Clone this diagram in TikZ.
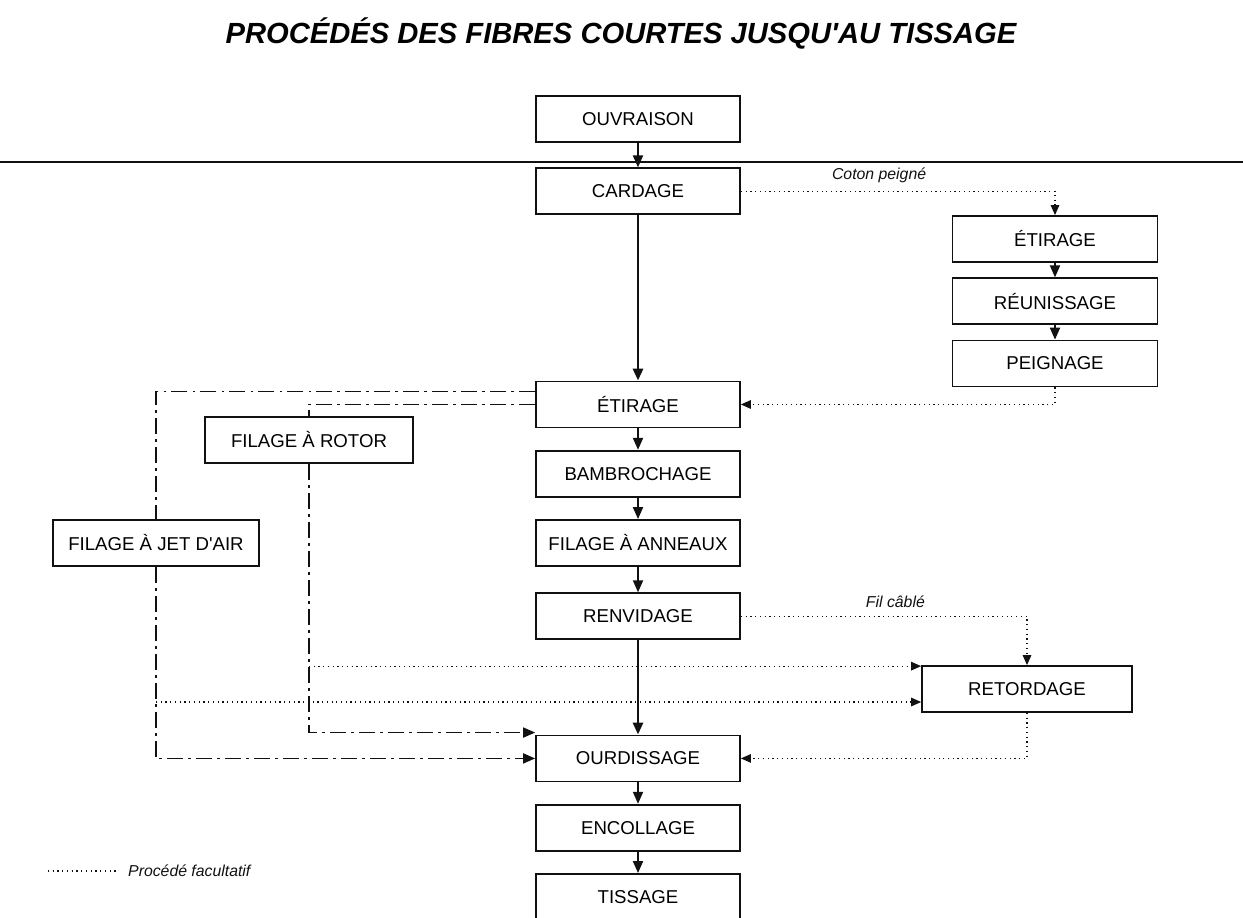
\documentclass[tikz,border=0pt]{standalone}
\usepackage{fontspec}
\setmainfont{Liberation Sans}
\usepackage{xcolor}
\definecolor{cInk}{HTML}{111111}
\usepackage{tikz}
\usetikzlibrary{positioning,arrows.meta}
\tikzset{
  node-box/.style={draw=cInk,line width=1pt,minimum height=0.92cm,
    minimum width=4.08cm,inner sep=0pt,align=center,
    font=\fontsize{10.6}{12}\selectfont},
  node-note/.style={font=\fontsize{9}{10}\selectfont\itshape,text=cInk},
  arrow-main/.style={-{Triangle[length=2.4mm,width=2mm]},line width=1.1pt,draw=cInk},
  arrow-thick/.style={-{Triangle[length=2.4mm,width=2mm]},line width=1.6pt,draw=cInk},
  % procede facultatif : pointille fin
  arrow-opt/.style={-{Triangle[length=2mm,width=1.7mm]},line width=0.7pt,
    dotted,draw=cInk},
  line-opt/.style={line width=0.7pt,dotted,draw=cInk},
  % filage hors anneaux : trait mixte
  arrow-alt/.style={-{Triangle[length=2.4mm,width=2mm]},line width=0.9pt,
    dash pattern=on 9pt off 3pt on 1.5pt off 3pt,draw=cInk},
  line-alt/.style={line width=0.9pt,
    dash pattern=on 9pt off 3pt on 1.5pt off 3pt,draw=cInk},
}

\begin{document}
\begin{tikzpicture}[x=0.02cm,y=-0.02cm,node distance=0.43cm]
  \useasboundingbox (0,0) rectangle (1243,917);

  \node[font=\fontsize{16.6}{18}\selectfont\bfseries\itshape] (titre) at (621,33)
    {PROCÉDÉS DES FIBRES COURTES JUSQU\textquotesingle AU TISSAGE};

  % colonne principale
  \node[node-box] (ouvraison) at (638,119) {OUVRAISON};
  \node[node-box,below=0.49cm of ouvraison] (cardage) {CARDAGE};
  \node[node-box,below=3.31cm of cardage] (etirage) {ÉTIRAGE};
  \node[node-box,below=of etirage] (bambrochage) {BAMBROCHAGE};
  \node[node-box,below=of bambrochage] (anneaux) {FILAGE À ANNEAUX};
  \node[node-box,below=0.51cm of anneaux] (renvidage) {RENVIDAGE};
  \node[node-box,below=1.89cm of renvidage] (ourdissage) {OURDISSAGE};
  \node[node-box,below=0.43cm of ourdissage] (encollage) {ENCOLLAGE};
  \node[node-box,below=0.43cm of encollage] (tissage) {TISSAGE};

  % coton peigne
  \node[node-box,minimum width=4.1cm] (etirage-p) at (1055,239) {ÉTIRAGE};
  \node[node-box,minimum width=4.1cm,below=0.29cm of etirage-p] (reunissage) {RÉUNISSAGE};
  \node[node-box,minimum width=4.1cm,below=0.29cm of reunissage] (peignage) {PEIGNAGE};

  % autres filages et retordage
  \node[node-box,minimum width=4.16cm] (rotor) at (309,440) {FILAGE À ROTOR};
  \node[node-box,minimum width=4.12cm] (jet) at (156,543) {FILAGE À JET D\textquotesingle AIR};
  \node[node-box,minimum width=4.2cm] (retordage) at (1027,689) {RETORDAGE};

  \draw[line width=0.9pt,draw=cInk] (0,162) -- (1243,162);

  \draw[arrow-main] (ouvraison) -- (cardage);
  \draw[arrow-thick] (cardage) -- (etirage);
  \draw[arrow-main] (etirage) -- (bambrochage);
  \draw[arrow-main] (bambrochage) -- (anneaux);
  \draw[arrow-main] (anneaux) -- (renvidage);
  \draw[arrow-thick] (renvidage) -- (ourdissage);
  \draw[arrow-main] (ourdissage) -- (encollage);
  \draw[arrow-main] (encollage) -- (tissage);

  \draw[arrow-opt] (cardage.east) -| (etirage-p.north)
    node[node-note,pos=0.22,above=1pt] {Coton peigné};
  \draw[arrow-main] (etirage-p) -- (reunissage);
  \draw[arrow-main] (reunissage) -- (peignage);
  \draw[arrow-opt] (peignage.south) |- (etirage.east);

  \draw[line-alt] ([yshift=0.26cm]etirage.west) -| (jet.north);
  \draw[arrow-alt] (jet.south) |- (ourdissage.west);
  \draw[line-alt] (etirage.west) -| (rotor.north);
  \draw[arrow-alt] (rotor.south) |- ([yshift=0.04cm]ourdissage.north west);

  \coordinate (ret-haut) at ([yshift=-0.02cm]retordage.north west);
  \coordinate (ret-bas) at ([yshift=-0.26cm]retordage.west);
  \coordinate (rotor-branche) at (rotor.south |- ret-haut);
  \coordinate (jet-branche) at (jet.south |- ret-bas);
  \draw[arrow-opt] (rotor-branche) -- (ret-haut);
  \draw[arrow-opt] (jet-branche) -- (ret-bas);

  \draw[arrow-opt] (renvidage.east) -| (retordage.north)
    node[node-note,pos=0.27,above=1pt] {Fil câblé};
  \draw[arrow-opt] (retordage.south) |- (ourdissage.east);

  % legende
  \coordinate (leg-a) at (48,871);
  \coordinate (leg-b) at (117,871);
  \draw[line-opt] (leg-a) -- (leg-b);
  \node[node-note,anchor=west] (legende) at (122,871) {Procédé facultatif};
\end{tikzpicture}
\end{document}
